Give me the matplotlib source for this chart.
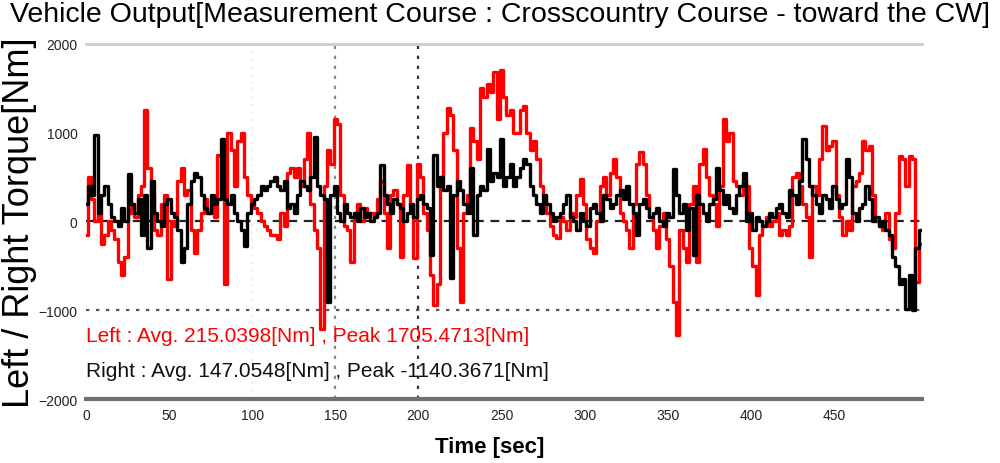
import matplotlib
matplotlib.use('Agg')
import matplotlib.pyplot as plt
import numpy as np

# time axis: one sample every 2 s
time_sec = np.arange(0, 504, 2)

left_torque = [
    -150, 500, 250, 0, 100, -250, -150, 0, -100, -200,
    -450, -600, -400, 100, 200, 50, 300, 400, 1250, 600,
    300, -100, -150, 200, 300, -650, 0, -50, 450, 600,
    300, 350, -100, -350, -100, 100, 250, 100, 200, 50,
    750, 300, -700, 1000, 800, 400, 900, 1000, 500, 300,
    200, 150, 100, 0, -50, -100, -150, -150, -200, 100,
    -50, 550, 600, 500, 600, 400, 700, 1000, 200, -100,
    -300, -1210, 400, 800, 650, 1150, 1100, 300, -50, -100,
    -450, 100, 200, 0, 150, 50,
    100, 50, 250, 450, 100, -300, 300, 350, 200, -400,
    300, 630, 200, -410, 650, 500, 100, -100, -600, -940,
    -700, 500, 1000, 1270, 1200, 800, -300, -900, 100, 300,
    1050, 900, 700, 1500, 1400, 1550, 1450, 1680, 1150, 1705,
    1400, 1200, 1250, 1000, 1000, 1250, 1300, 1000, 800, 900,
    700, 400, 300, 100, -50, -150, -190, 50, 0, -100,
    100, 50, 300, 480, 200, -200, -300, -350, 0, 400,
    500, 300, 550, 700, 500, 100, 0, -100, -300, 200,
    650, 780,
    650, 300, 50, -100, -300, -50, 100, -200, -500, -900,
    -1280, -100, -300, -450, 200, 400, -450, 650, 820, 500,
    300, 200, -50, 400, 1150, 900, 1000, 450, 400, 300,
    450, 400, -300, -500, -830, -150, -50, 50, -50, 0,
    100, -150, -100, -150, -50, 500, 550, 400, 200, 50,
    -400, 400, 300, 700, 1070, 800, 850, 900, 300, 50,
    -150, 0, -100, 400, 450, 550, 900, 800, 850, 300,
    0, -50, -100, 100, -200, -300, 100, 740, 700, 400,
    740, 700, -680, -250,
]

right_torque = [
    200, 400, 300, 970, 100, 300, 400, 200, 50, 0,
    -50, 150, 0, 535, 200, 100, 250, -150, 300, -300,
    450, 100, 0, -50, 200, 250, 100, 50, -100, -460,
    -300, 200, 450, 550, 500, 300, 150, 100, 300, 200,
    250, 930, 250, 200, 300, 100, 0, -100, -270, 100,
    200, 250, 300, 400, 350, 400, 450, 500, 400, 350,
    450, 150, 200, 100, 300, 450, 400, 350, 500, 950,
    400, 300, 250, -900, 300, 400, 100, 0, 200, 100,
    50, 100, 0, 150, 50, 100,
    0, 50, 100, 630, 300, 200, 100, 250, 200, 150,
    0, 100, 200, 50, 250, 300, 200, 150, -380, 750,
    400, 500, 350, 400, -640, 300, 450, 350, 200, 100,
    600, -150, 300, 400, 350, 820, 450, 550, 500, 930,
    400, 500, 650, 400, 500, 600, 700, 650, 400, 300,
    200, 100, 300, 200, 100, 0, 50, 100, 200, 300,
    50, 0, -100, 100, 0, -50, 150, 200, 100, 0,
    300, 250, 150, 200, 300, 350, 250, 400, 200, 100,
    -150, 200,
    250, 150, 50, 100, 150, 0, -50, 100, 50, 590,
    300, 100, 200, -100, 150, -380, 300, 200, 100, 0,
    200, 250, 600, 350, 200, 300, 150, 100, 300, 400,
    550, 0, 100, -100, 50, 0, -50, 0, 100, 50,
    150, 200, 100, 50, 350, 300, 200, 450, 930, 700,
    400, 300, 200, 100, 300, 250, 150, 400, 250, 150,
    200, 700, 500, 100, 0, 150, 200, 400, 250, 0,
    50, -50, 0, -100, -150, -400, -500, -700, -650, -980,
    -600, -1000, -300, -100,
]

x_ticks = [0, 50, 100, 150, 200, 250, 300, 350, 400, 450]
y_ticks = [-2000, -1000, 0, 1000, 2000]

left_text = 'Left : Avg. 215.0398[Nm] , Peak 1705.4713[Nm]'
right_text = 'Right : Avg. 147.0548[Nm] , Peak -1140.3671[Nm]'

plt.rcParams['font.family'] = ['Liberation Sans', 'DejaVu Sans']

fig = plt.figure(figsize=(10, 4.64), dpi=100)
ax = fig.add_axes([0.086, 0.137, 0.836, 0.767])

# reference lines
ax.axhline(0, color='#222222', lw=1.6, ls=(0, (4, 3)), zorder=1)
ax.axhline(-1000, color='#555555', lw=1.6, ls=(0, (1.5, 3)), zorder=1)
ax.axvline(100, color='#eeeeee', lw=1.2, ls=(0, (1.5, 3)), zorder=1)
ax.axvline(150, color='#888888', lw=1.6, ls=(0, (1.5, 3)), zorder=1)
ax.axvline(200, color='#333333', lw=1.6, ls=(0, (1.5, 3)), zorder=1)

ax.plot(time_sec, left_torque, color='#ff0000', lw=2.4, drawstyle='steps-mid', zorder=2)
ax.plot(time_sec, right_torque, color='#000000', lw=2.4, drawstyle='steps-mid', zorder=3)

ax.set_xlim(0, 503)
ax.set_ylim(-2000, 2000)
ax.set_xticks(x_ticks)
ax.set_yticks(y_ticks)
ax.tick_params(length=0, labelsize=10, labelcolor='#222222', pad=6)

for side in ['left', 'right']:
    ax.spines[side].set_visible(False)
ax.spines['top'].set_color('#cccccc')
ax.spines['top'].set_linewidth(2)
ax.spines['bottom'].set_color('#707070')
ax.spines['bottom'].set_linewidth(3)

ax.text(0.0, 0.18, left_text, transform=ax.transAxes, color='#ff0000',
        fontsize=15, va='center', ha='left')
ax.text(0.0, 0.08, right_text, transform=ax.transAxes, color='#111111',
        fontsize=15, va='center', ha='left')

fig.text(0.5, 0.968, 'Vehicle Output[Measurement Course : Crosscountry Course - toward the CW]',
         ha='center', va='center', fontsize=20.5)
fig.text(0.02, 0.52, 'Left / Right Torque[Nm]', rotation=90, ha='center', va='center',
         fontsize=26)
fig.text(0.49, 0.035, 'Time [sec]', ha='center', va='center', fontsize=16, fontweight='bold')

plt.savefig('out.png', dpi=100)
